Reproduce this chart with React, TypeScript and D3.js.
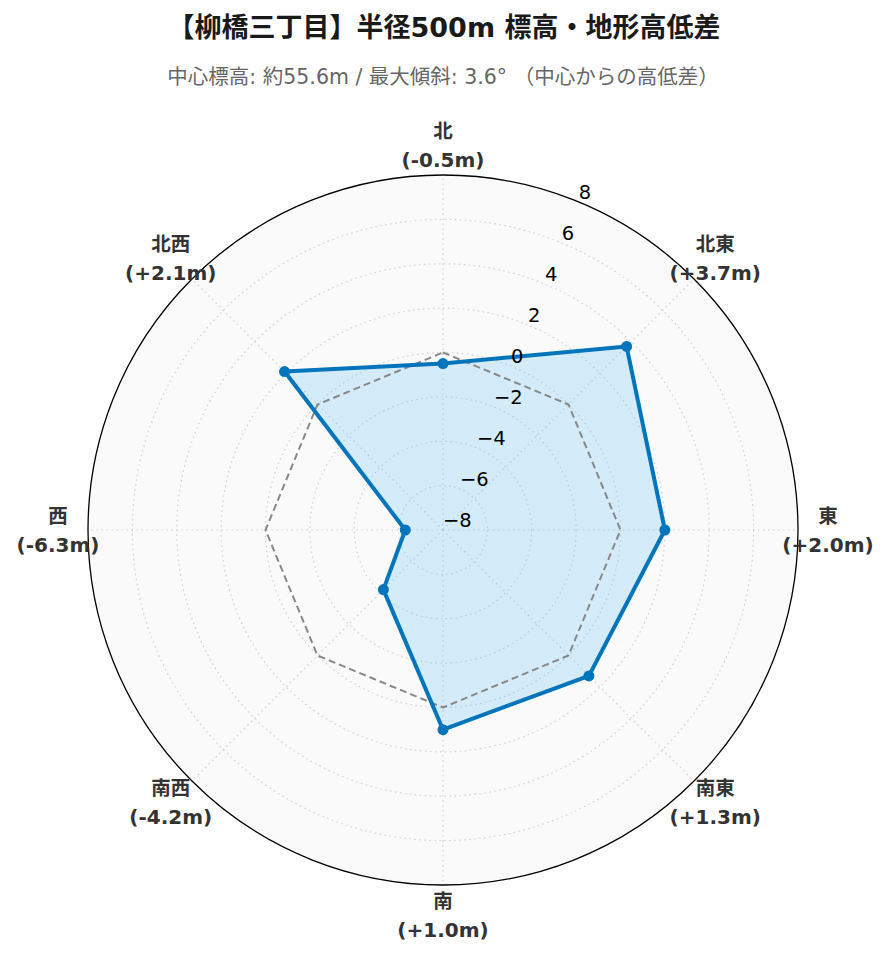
import React from "react";
import * as d3 from "d3";

const directions = ["北", "北東", "東", "南東", "南", "南西", "西", "北西"];
const diffs = [-0.5, 3.7, 2.0, 1.3, 1.0, -4.2, -6.3, 2.1];
const referenceLevel = [0, 0, 0, 0, 0, 0, 0, 0];
const radialTicks = [-8, -6, -4, -2, 0, 2, 4, 6, 8];
const titleText = "【柳橋三丁目】半径500m 標高・地形高低差";
const subtitleText = "中心標高: 約55.6m / 最大傾斜: 3.6° （中心からの高低差）";

const W = 889;
const H = 962;
const CX = 443;
const CY = 530;
const R = 355;
const FONT = "'DejaVu Sans', 'Noto Sans CJK JP', sans-serif";

export default function App() {
  const r = d3.scaleLinear().domain([-8, 8]).range([0, R]);
  const ang = d3
    .scaleLinear()
    .domain([0, directions.length])
    .range([0, 2 * Math.PI]);

  const pt = (i: number, v: number): [number, number] => {
    const a = ang(i);
    return [CX + r(v) * Math.sin(a), CY - r(v) * Math.cos(a)];
  };

  const radial = d3
    .lineRadial<number>()
    .angle((_, i) => ang(i))
    .radius((d) => r(d))
    .curve(d3.curveLinearClosed);

  const fmt = (v: number) => (v < 0 ? "\u2212" + Math.abs(v) : String(v));
  const diffFmt = (v: number) => "(" + (v >= 0 ? "+" : "-") + Math.abs(v).toFixed(1) + "m)";
  const labelAngle = Math.PI / 8;

  return (
    <svg
      width={W}
      height={H}
      style={{ position: "absolute", left: 0, top: 0, background: "#fff" }}
      fontFamily={FONT}
    >
      <rect x={0} y={0} width={W} height={H} fill="#fff" />
      <text x={444} y={37} textAnchor="middle" fontSize={27} fontWeight="bold" fill="#1a1a1a">
        {titleText}
      </text>
      <text x={443} y={84} textAnchor="middle" fontSize={20.5} fill="#666">
        {subtitleText}
      </text>

      <circle cx={CX} cy={CY} r={R} fill="#fafafa" />

      {radialTicks
        .filter((t) => t > -8 && t < 8)
        .map((t) => (
          <circle
            key={"g" + t}
            cx={CX}
            cy={CY}
            r={r(t)}
            fill="none"
            stroke="#cfcfcf"
            strokeWidth={1.2}
            strokeDasharray="1.5,3.5"
          />
        ))}
      {directions.map((d, i) => {
        const [x, y] = pt(i, 8);
        return (
          <line
            key={"a" + d}
            x1={CX}
            y1={CY}
            x2={x}
            y2={y}
            stroke="#cfcfcf"
            strokeWidth={1.2}
            strokeDasharray="1.5,3.5"
          />
        );
      })}

      <g transform={`translate(${CX},${CY})`}>
        <path d={radial(diffs) || ""} fill="#62C2F6" fillOpacity={0.25} stroke="none" />
        <path
          d={radial(referenceLevel) || ""}
          fill="none"
          stroke="#888888"
          strokeWidth={2}
          strokeDasharray="7,4"
        />
        <path d={radial(diffs) || ""} fill="none" stroke="#0075BC" strokeWidth={4} strokeLinejoin="round" />
      </g>
      {diffs.map((v, i) => {
        const [x, y] = pt(i, v);
        return <circle key={"m" + i} cx={x} cy={y} r={5.5} fill="#0075BC" />;
      })}

      <circle cx={CX} cy={CY} r={R} fill="none" stroke="#000" strokeWidth={1.3} />

      {radialTicks.map((t) => {
        const x = CX + r(t) * Math.sin(labelAngle);
        const y = CY - r(t) * Math.cos(labelAngle);
        return (
          <text key={"t" + t} x={x} y={y - 3} fontSize={19.5} fill="#000" fontFamily="'DejaVu Sans', sans-serif">
            {fmt(t)}
          </text>
        );
      })}

      {directions.map((d, i) => {
        const a = ang(i);
        const lx = CX + 385 * Math.sin(a);
        const ly = CY - 385 * Math.cos(a);
        return (
          <g key={"l" + d}>
            <text x={lx} y={ly - 7} textAnchor="middle" fontSize={19.5} fontWeight="bold" fill="#333">
              {d}
            </text>
            <text x={lx} y={ly + 22} textAnchor="middle" fontSize={20} fontWeight="bold" fill="#333">
              {diffFmt(diffs[i])}
            </text>
          </g>
        );
      })}
    </svg>
  );
}
